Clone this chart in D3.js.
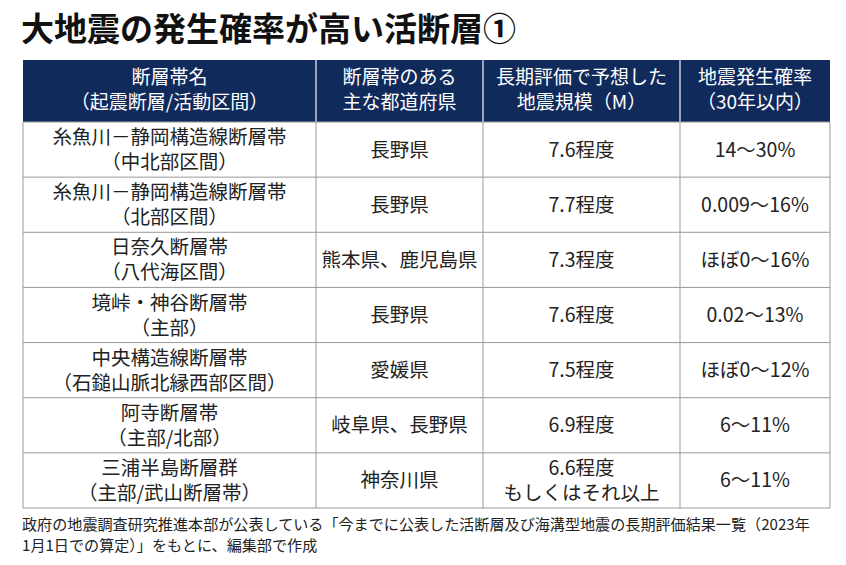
<!DOCTYPE html>
<html><head><meta charset="utf-8">
<script src="https://cdn.jsdelivr.net/npm/d3@7"></script>
<style>body{margin:0;background:#fff}</style>
</head><body>
<svg id="c" width="846" height="565"></svg>
<script>
const headers = [["断層帯名", "（起震断層/活動区間）"], ["断層帯のある", "主な都道府県"], ["長期評価で予想した", "地震規模（M）"], ["地震発生確率", "（30年以内）"]];
const faultNames = [["糸魚川－静岡構造線断層帯", "（中北部区間）"], ["糸魚川－静岡構造線断層帯", "（北部区間）"], ["日奈久断層帯", "（八代海区間）"], ["境峠・神谷断層帯", "（主部）"], ["中央構造線断層帯", "（石鎚山脈北縁西部区間）"], ["阿寺断層帯", "（主部/北部）"], ["三浦半島断層群", "（主部/武山断層帯）"]];
const prefectures = ["長野県", "長野県", "熊本県、鹿児島県", "長野県", "愛媛県", "岐阜県、長野県", "神奈川県"];
const magnitudes = [["7.6程度"], ["7.7程度"], ["7.3程度"], ["7.6程度"], ["7.5程度"], ["6.9程度"], ["6.6程度", "もしくはそれ以上"]];
const probabilities = ["14～30%", "0.009～16%", "ほぼ0～16%", "0.02～13%", "ほぼ0～12%", "6～11%", "6～11%"];

const font = "'Noto Sans CJK JP', sans-serif";
const svg = d3.select("#c");
const colEdges = [23, 316, 483, 680, 830];
const x = i => colEdges[i], cx = i => (colEdges[i] + colEdges[i + 1]) / 2;
const y = d3.scaleLinear().domain([0, 7]).range([122, 508]);
const rowH = y(1) - y(0);

svg.append("text").attr("x", 21).attr("y", 41).attr("font-family", font)
  .attr("font-weight", 700).attr("font-size", 33).attr("fill", "#111")
  .text("大地震の発生確率が高い活断層①");

svg.append("rect").attr("x", 23).attr("y", 60).attr("width", 807).attr("height", 62).attr("fill", "#102a5c");
headers.forEach((h, i) => {
  h.forEach((t, k) => svg.append("text").attr("x", cx(i)).attr("y", 84 + k * 25)
    .attr("text-anchor", "middle").attr("font-family", font).attr("font-size", 19)
    .attr("fill", "#fff").text(t));
  if (i > 0) svg.append("line").attr("x1", x(i)).attr("x2", x(i)).attr("y1", 60).attr("y2", 122)
    .attr("stroke", "#c8ccd8").attr("stroke-width", 1.5);
});

const rows = faultNames.map((f, i) => [f, [prefectures[i]], magnitudes[i], [probabilities[i]]]);
rows.forEach((r, ri) => {
  const top = y(ri);
  svg.append("rect").attr("x", 23).attr("y", top).attr("width", 807).attr("height", rowH)
    .attr("fill", "#fff");
  r.forEach((lines, ci) => {
    const n = lines.length;
    lines.forEach((t, k) => svg.append("text").attr("x", cx(ci))
      .attr("y", top + rowH / 2 + (k - (n - 1) / 2) * 25 + 7)
      .attr("text-anchor", "middle").attr("font-family", font).attr("font-size", 19.5)
      .attr("fill", "#222").text(t));
  });
});
// grid
d3.range(0, 8).forEach(i => svg.append("line").attr("x1", 23).attr("x2", 830)
  .attr("y1", y(i)).attr("y2", y(i)).attr("stroke", "#999").attr("stroke-width", 1));
colEdges.forEach(e => svg.append("line").attr("x1", e).attr("x2", e)
  .attr("y1", 122).attr("y2", 508).attr("stroke", "#999").attr("stroke-width", 1));

["政府の地震調査研究推進本部が公表している「今までに公表した活断層及び海溝型地震の長期評価結果一覧（2023年",
 "1月1日での算定）」をもとに、編集部で作成"].forEach((t, k) =>
  svg.append("text").attr("x", 22).attr("y", 530 + k * 21).attr("font-family", font)
    .attr("font-size", 15.1).attr("fill", "#222").text(t));
</script>
</body></html>
